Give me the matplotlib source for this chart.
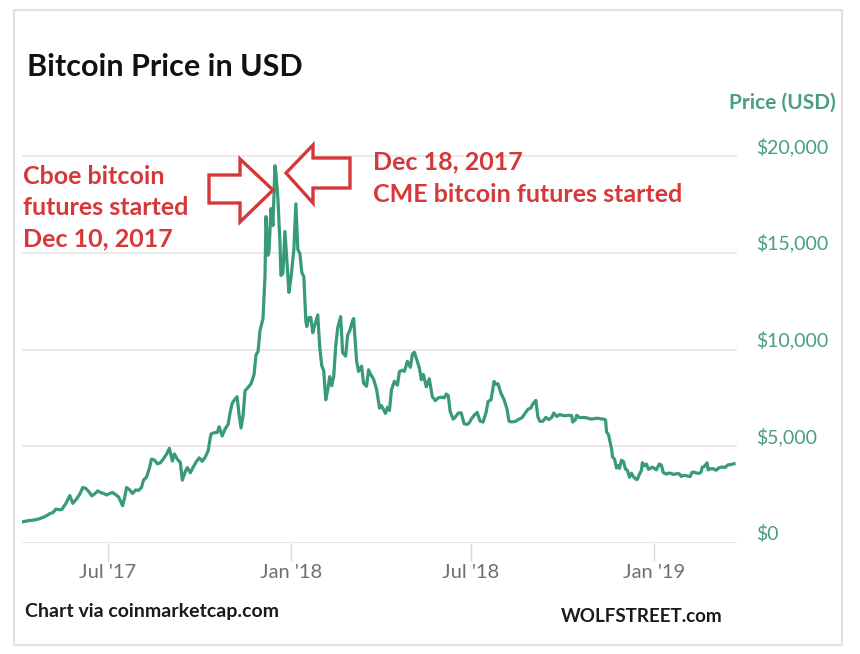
import matplotlib
matplotlib.use("Agg")
import matplotlib.pyplot as plt
from matplotlib.patches import Polygon, Rectangle
import pandas as pd

# ---------------- data ----------------
dates = [
    "2017-04-07", "2017-04-12", "2017-04-17", "2017-04-22", "2017-04-27", "2017-05-01", "2017-05-04",
    "2017-05-07", "2017-05-10", "2017-05-13", "2017-05-16", "2017-05-20", "2017-05-24", "2017-05-27",
    "2017-05-31", "2017-06-03", "2017-06-06", "2017-06-09", "2017-06-12", "2017-06-15", "2017-06-18",
    "2017-06-21", "2017-06-24", "2017-06-27", "2017-06-30", "2017-07-03", "2017-07-06", "2017-07-09",
    "2017-07-12", "2017-07-16", "2017-07-18", "2017-07-20", "2017-07-23", "2017-07-26", "2017-07-29",
    "2017-08-01", "2017-08-04", "2017-08-06", "2017-08-09", "2017-08-12", "2017-08-14", "2017-08-17",
    "2017-08-20", "2017-08-23", "2017-08-26", "2017-08-29", "2017-09-01", "2017-09-04", "2017-09-06",
    "2017-09-09", "2017-09-12", "2017-09-14", "2017-09-17", "2017-09-19", "2017-09-22", "2017-09-25",
    "2017-09-28", "2017-10-01", "2017-10-04", "2017-10-07", "2017-10-10", "2017-10-12", "2017-10-13",
    "2017-10-16", "2017-10-19", "2017-10-21", "2017-10-24", "2017-10-27", "2017-10-30", "2017-11-01",
    "2017-11-03", "2017-11-05", "2017-11-08", "2017-11-10", "2017-11-12", "2017-11-14", "2017-11-16",
    "2017-11-19", "2017-11-22", "2017-11-25", "2017-11-27", "2017-11-29", "2017-12-01", "2017-12-04",
    "2017-12-06", "2017-12-07", "2017-12-09", "2017-12-10", "2017-12-12", "2017-12-14", "2017-12-16",
    "2017-12-17", "2017-12-19", "2017-12-21", "2017-12-22", "2017-12-24", "2017-12-26", "2017-12-28",
    "2017-12-30", "2018-01-01", "2018-01-04", "2018-01-06", "2018-01-08", "2018-01-10", "2018-01-12",
    "2018-01-14", "2018-01-16", "2018-01-17", "2018-01-19", "2018-01-21", "2018-01-23", "2018-01-25",
    "2018-01-28", "2018-01-30", "2018-02-01", "2018-02-03", "2018-02-05", "2018-02-07", "2018-02-09",
    "2018-02-11", "2018-02-13", "2018-02-15", "2018-02-17", "2018-02-20", "2018-02-22", "2018-02-25",
    "2018-02-27", "2018-03-01", "2018-03-04", "2018-03-05", "2018-03-08", "2018-03-10", "2018-03-13",
    "2018-03-15", "2018-03-18", "2018-03-20", "2018-03-22", "2018-03-25", "2018-03-28", "2018-03-31",
    "2018-04-02", "2018-04-06", "2018-04-08", "2018-04-10", "2018-04-12", "2018-04-15", "2018-04-18",
    "2018-04-20", "2018-04-23", "2018-04-25", "2018-04-28", "2018-05-01", "2018-05-03", "2018-05-05",
    "2018-05-08", "2018-05-10", "2018-05-12", "2018-05-14", "2018-05-17", "2018-05-20", "2018-05-23",
    "2018-05-26", "2018-05-29", "2018-06-01", "2018-06-04", "2018-06-06", "2018-06-08", "2018-06-10",
    "2018-06-13", "2018-06-15", "2018-06-18", "2018-06-21", "2018-06-24", "2018-06-27", "2018-06-29",
    "2018-07-01", "2018-07-04", "2018-07-07", "2018-07-10", "2018-07-13", "2018-07-16", "2018-07-18",
    "2018-07-21", "2018-07-24", "2018-07-26", "2018-07-28", "2018-07-31", "2018-08-03", "2018-08-06",
    "2018-08-08", "2018-08-10", "2018-08-13", "2018-08-15", "2018-08-18", "2018-08-21", "2018-08-24",
    "2018-08-27", "2018-08-30", "2018-09-01", "2018-09-04", "2018-09-06", "2018-09-08", "2018-09-11",
    "2018-09-14", "2018-09-17", "2018-09-20", "2018-09-22", "2018-09-25", "2018-09-28", "2018-10-01",
    "2018-10-04", "2018-10-07", "2018-10-10", "2018-10-11", "2018-10-14", "2018-10-15", "2018-10-18",
    "2018-10-21", "2018-10-24", "2018-10-27", "2018-10-30", "2018-11-02", "2018-11-05", "2018-11-08",
    "2018-11-11", "2018-11-13", "2018-11-14", "2018-11-16", "2018-11-19", "2018-11-20", "2018-11-22",
    "2018-11-24", "2018-11-25", "2018-11-27", "2018-11-29", "2018-12-01", "2018-12-03", "2018-12-05",
    "2018-12-07", "2018-12-09", "2018-12-11", "2018-12-14", "2018-12-15", "2018-12-17", "2018-12-19",
    "2018-12-20", "2018-12-22", "2018-12-24", "2018-12-26", "2018-12-28", "2018-12-30", "2019-01-01",
    "2019-01-03", "2019-01-06", "2019-01-08", "2019-01-10", "2019-01-13", "2019-01-15", "2019-01-18",
    "2019-01-20", "2019-01-23", "2019-01-26", "2019-01-28", "2019-01-30", "2019-02-01", "2019-02-04",
    "2019-02-06", "2019-02-08", "2019-02-10", "2019-02-12", "2019-02-15", "2019-02-17", "2019-02-18",
    "2019-02-20", "2019-02-23", "2019-02-24", "2019-02-26", "2019-03-01", "2019-03-04", "2019-03-07",
    "2019-03-10", "2019-03-13", "2019-03-16", "2019-03-19", "2019-03-22",
]
prices = [
    1100, 1150, 1180, 1230, 1320, 1420, 1520,
    1570, 1750, 1720, 1730, 2040, 2450, 2050,
    2290, 2520, 2870, 2820, 2660, 2440, 2540,
    2690, 2610, 2560, 2480, 2560, 2610, 2500,
    2380, 1930, 2330, 2870, 2750, 2560, 2740,
    2720, 2870, 3250, 3400, 3880, 4330, 4290,
    4090, 4150, 4350, 4580, 4890, 4230, 4600,
    4330, 4160, 3250, 3690, 3900, 3630, 3930,
    4200, 4400, 4220, 4440, 4780, 5430, 5640,
    5700, 5710, 6010, 5530, 5900, 6130, 6740,
    7210, 7380, 7560, 6620, 5950, 6600, 7870,
    8040, 8230, 8700, 9730, 9890, 10980, 11600,
    13750, 16870, 14870, 15060, 17280, 16410, 19500,
    19140, 17780, 15560, 13830, 13930, 16100, 14600,
    12950, 13660, 15150, 17530, 15170, 14970, 13980,
    13770, 11490, 11190, 11650, 11660, 10870, 11260,
    11790, 10110, 9170, 8900, 7400, 7900, 8600,
    8130, 8600, 10170, 11110, 11700, 9830, 9660,
    10750, 10950, 11500, 11600, 9400, 8870, 9140,
    8260, 8100, 8950, 8720, 8470, 7960, 6970,
    7100, 6700, 7020, 6850, 7920, 8360, 8160,
    8860, 8930, 8870, 9390, 9080, 9750, 9860,
    9380, 9050, 8440, 8710, 8070, 8490, 7570,
    7360, 7500, 7540, 7500, 7700, 7620, 6790,
    6400, 6500, 6710, 6730, 6160, 6130, 6200,
    6390, 6600, 6750, 6300, 6250, 6740, 7310,
    7400, 8350, 8200, 8230, 7730, 7420, 6930,
    6300, 6260, 6270, 6300, 6400, 6470, 6690,
    6910, 6980, 7190, 7370, 6530, 6290, 6290,
    6490, 6380, 6490, 6720, 6540, 6640, 6590,
    6580, 6600, 6580, 6250, 6390, 6600, 6480,
    6490, 6480, 6440, 6400, 6430, 6450, 6420,
    6400, 6360, 5740, 5590, 4870, 4450, 4330,
    3880, 4010, 3860, 4280, 4210, 3820, 3750,
    3400, 3610, 3420, 3280, 3300, 3550, 3750,
    4150, 3990, 4080, 3810, 3860, 3920, 3860,
    3780, 4080, 4030, 3640, 3560, 3610, 3600,
    3540, 3580, 3580, 3440, 3490, 3490, 3450,
    3440, 3660, 3660, 3620, 3600, 3670, 3910,
    3950, 4140, 3780, 3830, 3840, 3760, 3890,
    3930, 3900, 4040, 4050, 4100,
]
x_tick_dates = ["2017-07-01", "2018-01-01", "2018-07-01", "2019-01-01"]
x_tick_labels = ["Jul '17", "Jan '18", "Jul '18", "Jan '19"]
y_ticks = [0, 5000, 10000, 15000, 20000]
y_tick_labels = ["\\$0", "\\$5,000", "\\$10,000", "\\$15,000", "\\$20,000"]

# ---------------- style ----------------
GREEN = "#389a76"
TICK_GREEN = "#4a9e80"
RED = "#d6383a"
GRID = "#e8e8e8"
W, H = 860, 654
FONT = "Lato"

def fx(x):
    return x / W

def fy(y):
    return 1 - y / H

fig = plt.figure(figsize=(W / 100, H / 100), dpi=100)
fig.patch.set_facecolor("white")

# outer frame
fig.patches.append(Rectangle((fx(14), fy(645)), fx(842) - fx(14), fy(10) - fy(645),
                             transform=fig.transFigure, fill=False,
                             edgecolor="#e2e2e2", linewidth=1.5))

ax_left, ax_right, ax_bottom, ax_top = 22, 737, 543, 127
ax = fig.add_axes([fx(ax_left), fy(ax_bottom), fx(ax_right) - fx(ax_left), fy(ax_top) - fy(ax_bottom)])
ax.set_facecolor("none")

d = pd.to_datetime(dates)
ax.plot(d, prices, color=GREEN, linewidth=2.3, solid_joinstyle="round", zorder=3)

ax.set_xlim(pd.Timestamp("2017-04-06"), pd.Timestamp("2019-03-25"))
ax.set_ylim(0, 21500)

for s in ax.spines.values():
    s.set_visible(False)

ax.set_yticks(y_ticks)
ax.set_yticklabels(y_tick_labels)
ax.yaxis.tick_right()
ax.tick_params(axis="y", length=0, pad=14, labelsize=14, labelcolor=TICK_GREEN)
for lbl in ax.get_yticklabels():
    lbl.set_verticalalignment("bottom")
    lbl.set_fontfamily(FONT)
ax.yaxis.grid(True, color=GRID, linewidth=1.3, zorder=0)
ax.axhline(0, color="#dedede", linewidth=2.0, zorder=1)

ax.set_xticks(pd.to_datetime(x_tick_dates))
ax.set_xticklabels(x_tick_labels)
ax.tick_params(axis="x", length=13, width=1.0, color="#d9d9d9", pad=2, labelsize=14.5, labelcolor="#6f6f6f")
for lbl in ax.get_xticklabels():
    lbl.set_fontfamily(FONT)

# texts
fig.text(fx(27), fy(67), "Bitcoin Price in USD", fontsize=22, fontweight="bold",
         family=FONT, color="#111111", va="center", ha="left")
fig.text(fx(836), fy(103), "Price (USD)", fontsize=15, fontweight="bold",
         family=FONT, color=TICK_GREEN, va="center", ha="right")

cboe = ["Cboe bitcoin", "futures started", "Dec 10, 2017"]
for i, line in enumerate(cboe):
    fig.text(fx(23), fy(176 + i * 31.5), line, fontsize=18, fontweight="bold",
             family=FONT, color=RED, va="center", ha="left")
cme = ["Dec 18, 2017", "CME bitcoin futures started"]
for i, line in enumerate(cme):
    fig.text(fx(373), fy(162 + i * 33), line, fontsize=18, fontweight="bold",
             family=FONT, color=RED, va="center", ha="left")

fig.text(fx(25), fy(612), "Chart via coinmarketcap.com", fontsize=14, fontweight="bold",
         family=FONT, color="#1a1a1a", va="center", ha="left")
fig.text(fx(722), fy(617), "WOLFSTREET.com", fontsize=13.5, fontweight="bold",
         family=FONT, color="#1a1a1a", va="center", ha="right")

# block arrows (outline)
right_arrow = [(209, 175), (240, 175), (240, 159), (273, 190), (240, 222), (240, 203), (209, 203)]
left_arrow = [(350, 158), (313, 158), (313, 145), (286, 173), (313, 203), (313, 188), (350, 188)]
for pts in (right_arrow, left_arrow):
    fig.patches.append(Polygon([(fx(x), fy(y)) for x, y in pts], closed=True,
                               transform=fig.transFigure, facecolor="white",
                               edgecolor=RED, linewidth=2.4, joinstyle="miter", zorder=5))

fig.savefig("out.png", dpi=100, facecolor="white")
